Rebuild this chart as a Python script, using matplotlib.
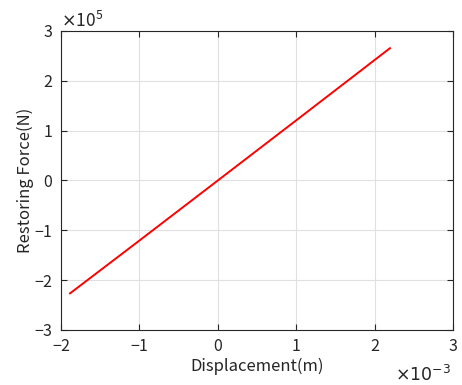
import numpy as np
import matplotlib.pyplot as plt

# 変位と復元力 (読み取り値)
displacement = np.array([-1.885e-3, -1.0e-3, 0.0, 1.0e-3, 2.196e-3])
force = np.array([-2.265e5, -1.205e5, 0.0, 1.207e5, 2.655e5])

plt.rcParams['font.family'] = ['Noto Sans CJK JP', 'DejaVu Sans']
plt.rcParams['axes.unicode_minus'] = True

fig = plt.figure(figsize=(4.62, 3.85), dpi=100)
ax = fig.add_axes([61/462, 1 - 330/385, (453-61)/462, (330-31)/385])

ax.plot(displacement, force, '-', color='red', linewidth=1.4)

ax.set_xlim(-2e-3, 3e-3)
ax.set_ylim(-3e5, 3e5)
ax.set_xticks(np.arange(-2, 4) * 1e-3)
ax.set_yticks(np.arange(-3, 4) * 1e5)
ax.ticklabel_format(style='sci', scilimits=(0, 0), useMathText=True)

ax.grid(True, color='#e0e0e0', linewidth=0.8)
ax.set_axisbelow(True)
for s in ax.spines.values():
    s.set_color('#262626')
    s.set_linewidth(0.8)
ax.tick_params(direction='in', top=True, right=True, length=4, pad=6,
               color='#262626', labelsize=11.5, labelcolor='#262626')
ax.yaxis.get_offset_text().set_fontsize(12.5)
ax.xaxis.get_offset_text().set_visible(False)
fig.text(451/462, 1 - 375/385, r'$\times10^{-3}$', ha='right', va='center',
         fontsize=12.5, color='#262626')

ax.set_xlabel('Displacement(m)', fontsize=12, color='#262626', labelpad=2)
ax.set_ylabel('Restoring Force(N)', fontsize=12, color='#262626', labelpad=0)

fig.savefig('out.png', dpi=100)
